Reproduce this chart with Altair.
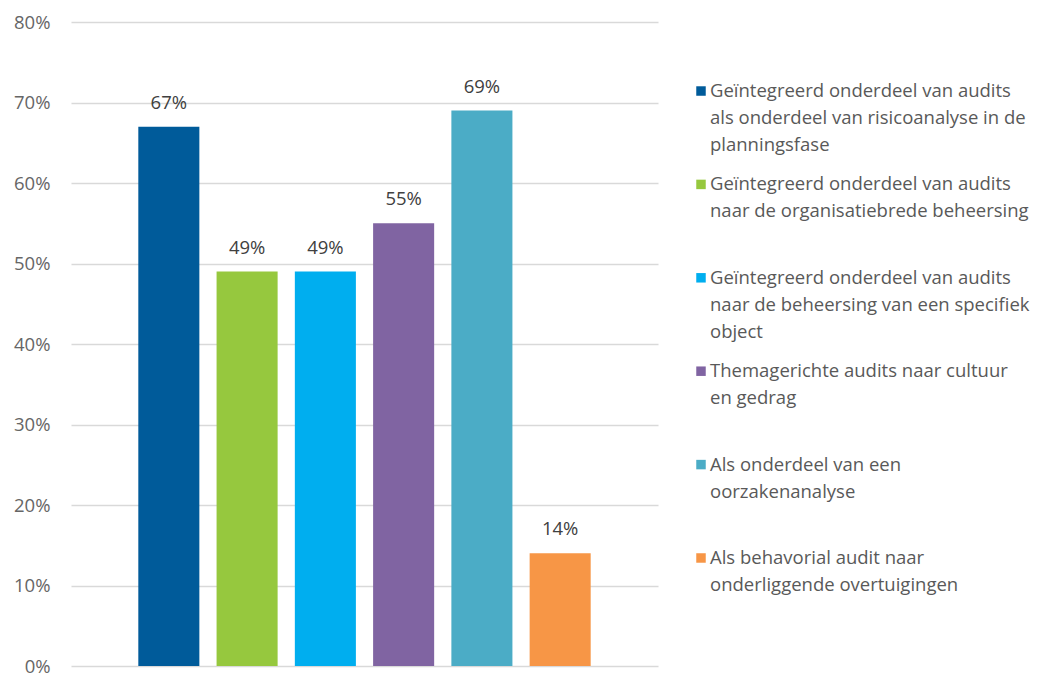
import altair as alt
import pandas as pd

categories = [
    "Geïntegreerd onderdeel van audits|als onderdeel van risicoanalyse in de|planningsfase",
    "Geïntegreerd onderdeel van audits|naar de organisatiebrede beheersing",
    "Geïntegreerd onderdeel van audits|naar de beheersing van een specifiek|object",
    "Themagerichte audits naar cultuur|en gedrag",
    "Als onderdeel van een|oorzakenanalyse",
    "Als behavorial audit naar|onderliggende overtuigingen",
]
values = [0.67, 0.49, 0.49, 0.55, 0.69, 0.14]
colors = ["#005B9A", "#96C83E", "#00AEEF", "#8064A2", "#4BACC6", "#F79646"]
y_ticks = [0, 0.1, 0.2, 0.3, 0.4, 0.5, 0.6, 0.7, 0.8]

df = pd.DataFrame({"cat": categories, "value": values})

FONT = "Open Sans"
FS = 18.5
color_scale = alt.Scale(domain=categories, range=colors)

x_enc = alt.X("cat:N", sort=None, axis=None,
              scale=alt.Scale(paddingInner=0.22, paddingOuter=0.86))
y_enc = alt.Y("value:Q",
              scale=alt.Scale(domain=[0, 0.8], nice=False),
              axis=alt.Axis(values=y_ticks, format=".0%", title=None,
                            domain=False, ticks=False, labelPadding=21,
                            labelFont=FONT, labelFontSize=FS,
                            labelColor="#666666", gridColor="#D9D9D9",
                            gridWidth=1.5))

bars = alt.Chart(df).mark_bar().encode(
    x=x_enc, y=y_enc,
    color=alt.Color("cat:N", scale=color_scale, legend=None),
)
labels = alt.Chart(df).mark_text(
    baseline="middle", dy=-24, font=FONT, fontSize=FS, color="#404040"
).encode(x=x_enc, y=alt.Y("value:Q"), text=alt.Text("value:Q", format=".0%"))

main = alt.layer(bars, labels).properties(width=587, height=644)

ly = alt.Y("cat:N", sort=None, axis=None,
           scale=alt.Scale(type="point", padding=0.739))
leg_sq = alt.Chart(df).mark_square(size=90, opacity=1).encode(
    x=alt.value(8), y=ly,
    color=alt.Color("cat:N", scale=color_scale, legend=None),
)
leg_tx = alt.Chart(df).mark_text(
    align="left", baseline="middle", lineBreak="|", lineHeight=27,
    font=FONT, fontSize=FS, color="#595959"
).encode(x=alt.value(17), y=ly, text="cat:N")
legend = alt.layer(leg_sq, leg_tx).properties(width=340, height=605)

chart = alt.hconcat(main, legend, spacing=35).properties(
    padding={"left": 13, "top": 13, "right": 0, "bottom": 0}
).configure_view(stroke=None)

chart.save("out.html", embed_options={"renderer": "svg", "actions": False})
